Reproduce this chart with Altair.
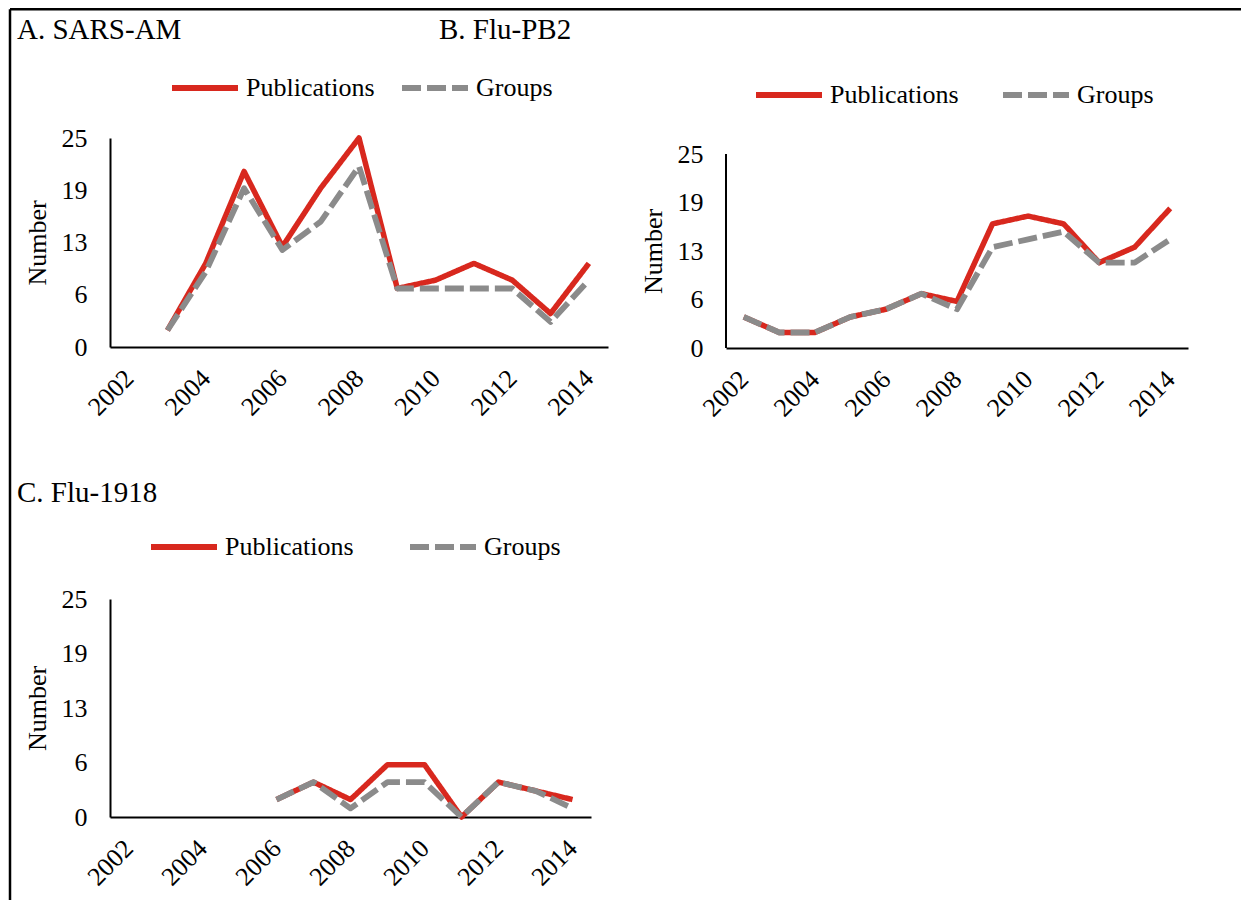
import altair as alt
import pandas as pd

# ---------------- data ----------------
years = ["2002", "2003", "2004", "2005", "2006", "2007", "2008",
         "2009", "2010", "2011", "2012", "2013", "2014"]
year_labels = ["2002", "2004", "2006", "2008", "2010", "2012", "2014"]
series_names = ["Publications", "Groups"]
panel_titles = ["A. SARS-AM", "B. Flu-PB2", "C. Flu-1918"]
y_ticks = [0, 6.25, 12.5, 18.75, 25]

sars_pub = [None, 2, 10, 21, 12, 19, 25, 7, 8, 10, 8, 4, 10]
sars_groups = [None, 2, 9, 19, 11.6, 15, 21.6, 7, 7, 7, 7, 3, 8]
pb2_pub = [4, 2, 2, 4, 5, 7, 6, 16, 17, 16, 11, 13, 18]
pb2_groups = [4, 2, 2, 4, 5, 7, 5, 13, 14, 15, 11, 11, 14]
flu_pub = [None, None, None, None, 2, 4, 2, 6, 6, 0, 4, 3, 2]
flu_groups = [None, None, None, None, 2, 4, 1, 4, 4, 0, 4, 3, 1]

RED = "#D8281E"
GRAY = "#8B8B8B"
FONT = "Liberation Serif"


def long_df(pub, grp):
    rows = []
    for name, vals in zip(series_names, [pub, grp]):
        for yr, v in zip(years, vals):
            if v is not None:
                rows.append({"year": yr, "value": v, "series": name})
    return pd.DataFrame(rows)


def panel(df, title, width, height, ymax, legend_x, legend_y, col_pad,
          title_x, title_y, own_axis_line=False, axis_title_y=None, frame=False):
    leg = alt.Legend(orient="none", legendX=legend_x, legendY=legend_y,
                     direction="horizontal", title=None, symbolType="stroke",
                     symbolSize=4356, symbolStrokeWidth=6, labelFont=FONT,
                     labelFontSize=26, labelColor="black", labelOffset=5,
                     columnPadding=col_pad, padding=0, labelLimit=0)
    x = alt.X("year:O", scale=alt.Scale(domain=years, padding=0.5),
              axis=alt.Axis(values=year_labels, labelAngle=315, labelAlign="right",
                            labelBaseline="middle", labelPadding=27, title=None))
    yargs = dict(values=y_ticks, format=".0f", title="Number", labelPadding=23,
                 titlePadding=11)
    if own_axis_line:
        yargs["domain"] = False
    if axis_title_y is not None:
        yargs["titleY"] = axis_title_y
    y = alt.Y("value:Q", scale=alt.Scale(domain=[0, ymax], nice=False),
              axis=alt.Axis(**yargs))
    color = alt.Color("series:N", scale=alt.Scale(domain=series_names, range=[RED, GRAY]),
                      legend=leg)
    dash = alt.StrokeDash("series:N",
                          scale=alt.Scale(domain=series_names, range=[[1, 0], [19, 6]]),
                          legend=leg)
    base = alt.Chart(df).encode(x=x, y=y, color=color, strokeDash=dash)
    pub = base.transform_filter(alt.datum.series == "Publications").mark_line(
        strokeWidth=5.5, strokeCap="butt", strokeJoin="round")
    grp = base.transform_filter(alt.datum.series == "Groups").mark_line(
        strokeWidth=5.8, strokeCap="butt", strokeJoin="round")
    ttl = alt.Chart(pd.DataFrame({"label": [title]})).mark_text(
        align="left", baseline="alphabetic", font=FONT, fontSize=29, color="black"
    ).encode(x=alt.value(title_x), y=alt.value(title_y), text="label:N")
    layers = [pub, grp, ttl]
    one = pd.DataFrame({"k": [0]})
    if own_axis_line:
        layers.append(alt.Chart(one).mark_rule(color="black", strokeWidth=2).encode(
            x=alt.value(0), y=alt.datum(0), y2=alt.datum(25)))
    if frame:
        layers.append(alt.Chart(one).mark_rule(color="black", strokeWidth=2.5).encode(
            x=alt.value(-100), x2=alt.value(1131), y=alt.value(-128.75)))
        layers.append(alt.Chart(one).mark_rule(color="black", strokeWidth=2.5).encode(
            x=alt.value(-100), y=alt.value(-128.75), y2=alt.value(762)))
    return alt.layer(*layers).properties(width=width, height=height)


A = panel(long_df(sars_pub, sars_groups), panel_titles[0], 498, 209, 25,
          59, -86, 15, -93, -99, frame=True)
B = panel(long_df(pb2_pub, pb2_groups), panel_titles[1], 462, 210, 25 * 210 / 194,
          27, -79, 32, -287, -99, own_axis_line=True, axis_title_y=113)
C = panel(long_df(flu_pub, flu_groups), panel_titles[2], 481, 218, 25,
          38, -88, 44, -93, -97)

chart = alt.concat(A, B, C, columns=2, spacing={"row": 251, "column": 118},
                   bounds="flush").resolve_legend(
    color="independent", strokeDash="independent"
).properties(padding=0).configure_view(stroke=None).configure_axis(
    grid=False, ticks=False, domainColor="black", domainWidth=2,
    labelFont=FONT, labelFontSize=26, labelColor="black",
    titleFont=FONT, titleFontSize=26, titleFontWeight="normal", titleColor="black"
)

chart.save("out.html", embed_options={"renderer": "svg", "actions": False})
